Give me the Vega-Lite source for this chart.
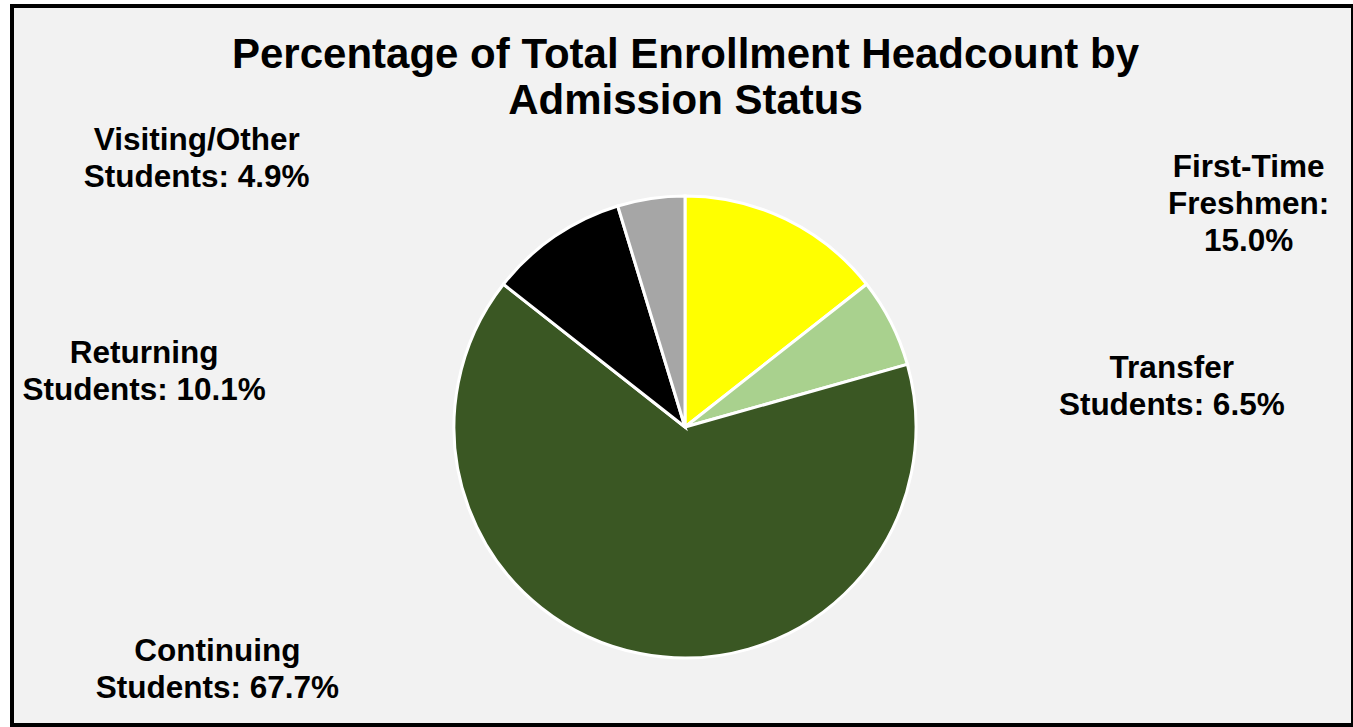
{
  "$schema": "https://vega.github.io/schema/vega-lite/v6.json",
  "autosize": "none",
  "width": 1341,
  "height": 719,
  "padding": {"left": 12, "top": 6, "right": 0, "bottom": 2},
  "background": "#ffffff",
  "view": {"stroke": "#000000", "strokeWidth": 4, "fill": "#f2f2f2"},
  "config": {
    "view": {"stroke": "#000000", "strokeWidth": 4, "fill": "#f2f2f2"},
    "font": "Liberation Sans"
  },
  "title": {
    "text": ["Percentage of Total Enrollment Headcount by", "Admission Status"],
    "font": "Liberation Sans",
    "fontSize": 42,
    "fontWeight": "bold",
    "color": "#000000",
    "anchor": "middle",
    "frame": "group",
    "baseline": "top",
    "lineHeight": 46,
    "offset": -117,
    "dx": 3
  },
  "data": {
    "values": [
      {"idx": 1, "cat": "First-Time Freshmen", "value": 15.0, "label": "First-Time\nFreshmen:\n15.0%"},
      {"idx": 2, "cat": "Transfer Students", "value": 6.5, "label": "Transfer\nStudents: 6.5%"},
      {"idx": 3, "cat": "Continuing Students", "value": 67.7, "label": "Continuing\nStudents: 67.7%"},
      {"idx": 4, "cat": "Returning Students", "value": 10.1, "label": "Returning\nStudents: 10.1%"},
      {"idx": 5, "cat": "Visiting/Other Students", "value": 4.9, "label": "Visiting/Other\nStudents: 4.9%"}
    ]
  },
  "encoding": {
    "theta": {"field": "value", "type": "quantitative", "stack": true},
    "order": {"field": "idx", "type": "quantitative", "sort": "ascending"}
  },
  "layer": [
    {
      "mark": {"type": "arc", "outerRadius": 231, "stroke": "#ffffff", "strokeWidth": 3, "x": {"expr": "width/2 + 2.5"}, "y": {"expr": "height/2 + 61.5"}},
      "encoding": {
        "color": {
          "field": "cat",
          "type": "nominal",
          "sort": null,
          "scale": {
            "domain": ["First-Time Freshmen", "Transfer Students", "Continuing Students", "Returning Students", "Visiting/Other Students"],
            "range": ["#ffff00", "#a9d18e", "#3a5723", "#000000", "#a6a6a6"]
          },
          "legend": null
        }
      }
    },
    {
      "mark": {"type": "text", "radius": 260, "x": {"expr": "width/2 + 2.5"}, "y": {"expr": "height/2 + 61.5"}, "dx": 450, "dy": -25, "align": "center", "baseline": "middle", "lineBreak": "\n", "lineHeight": 37, "fontSize": 31.5, "fontWeight": "bold", "font": "Liberation Sans", "fill": "#000000"},
      "encoding": {
        "detail": {"field": "cat", "type": "nominal"},
        "text": {"condition": {"test": "datum.idx == 1", "field": "label"}, "value": ""}
      }
    },
    {
      "mark": {"type": "text", "radius": 260, "x": {"expr": "width/2 + 2.5"}, "y": {"expr": "height/2 + 61.5"}, "dx": 255, "dy": 60, "align": "center", "baseline": "middle", "lineBreak": "\n", "lineHeight": 37, "fontSize": 31.5, "fontWeight": "bold", "font": "Liberation Sans", "fill": "#000000"},
      "encoding": {
        "detail": {"field": "cat", "type": "nominal"},
        "text": {"condition": {"test": "datum.idx == 2", "field": "label"}, "value": ""}
      }
    },
    {
      "mark": {"type": "text", "radius": 260, "x": {"expr": "width/2 + 2.5"}, "y": {"expr": "height/2 + 61.5"}, "dx": -417, "dy": -30.5, "align": "center", "baseline": "middle", "lineBreak": "\n", "lineHeight": 37, "fontSize": 31.5, "fontWeight": "bold", "font": "Liberation Sans", "fill": "#000000"},
      "encoding": {
        "detail": {"field": "cat", "type": "nominal"},
        "text": {"condition": {"test": "datum.idx == 3", "field": "label"}, "value": ""}
      }
    },
    {
      "mark": {"type": "text", "radius": 260, "x": {"expr": "width/2 + 2.5"}, "y": {"expr": "height/2 + 61.5"}, "dx": -394, "dy": 141.5, "align": "center", "baseline": "middle", "lineBreak": "\n", "lineHeight": 37, "fontSize": 31.5, "fontWeight": "bold", "font": "Liberation Sans", "fill": "#000000"},
      "encoding": {
        "detail": {"field": "cat", "type": "nominal"},
        "text": {"condition": {"test": "datum.idx == 4", "field": "label"}, "value": ""}
      }
    },
    {
      "mark": {"type": "text", "radius": 260, "x": {"expr": "width/2 + 2.5"}, "y": {"expr": "height/2 + 61.5"}, "dx": -450, "dy": -28.5, "align": "center", "baseline": "middle", "lineBreak": "\n", "lineHeight": 37, "fontSize": 31.5, "fontWeight": "bold", "font": "Liberation Sans", "fill": "#000000"},
      "encoding": {
        "detail": {"field": "cat", "type": "nominal"},
        "text": {"condition": {"test": "datum.idx == 5", "field": "label"}, "value": ""}
      }
    }
  ]
}
